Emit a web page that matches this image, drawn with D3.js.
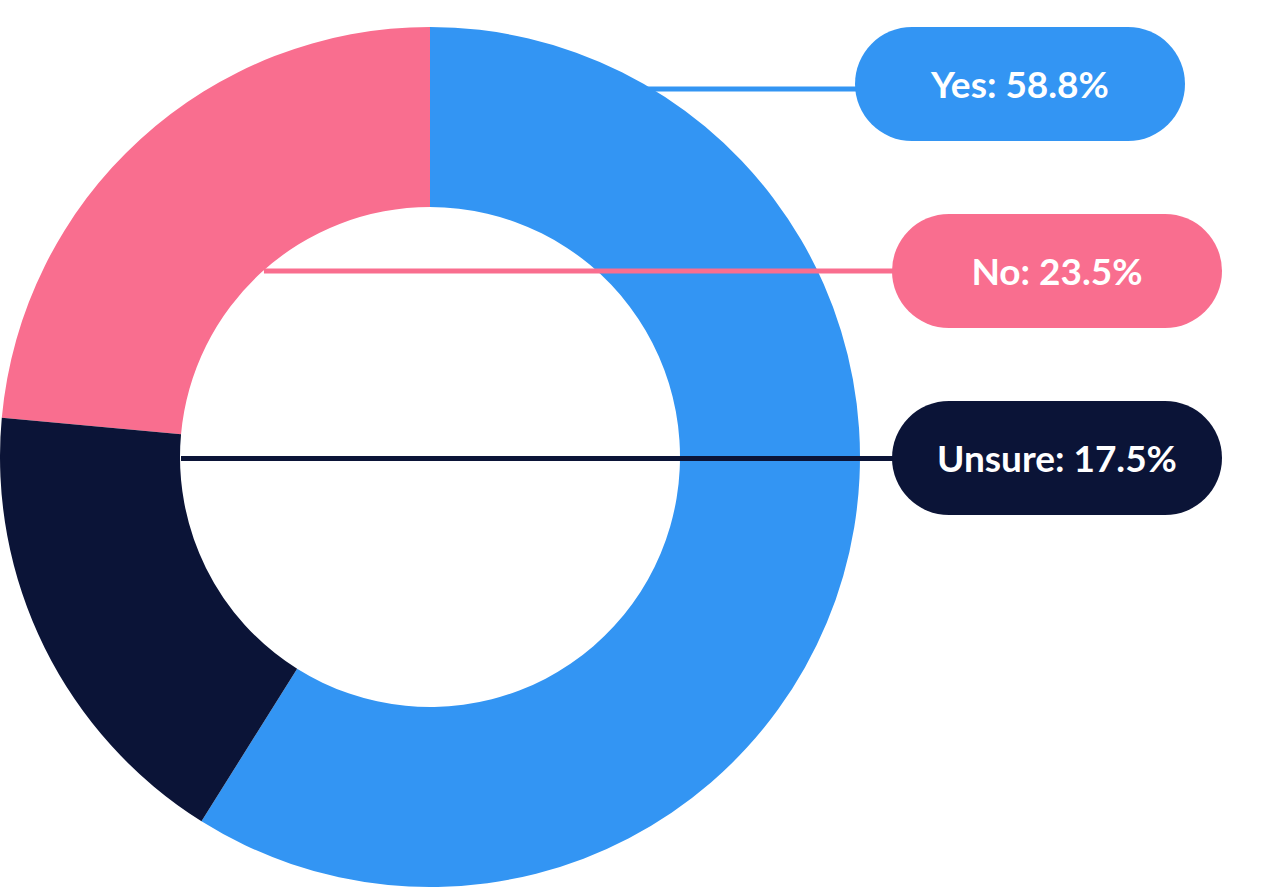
<!DOCTYPE html>
<html>
<head>
<meta charset="utf-8">
<script src="https://cdn.jsdelivr.net/npm/d3@7"></script>
<style>
  html, body { margin: 0; padding: 0; background: #fff; }
  #app { width: 1271px; height: 887px; overflow: hidden; }
</style>
</head>
<body>
<div id="app"></div>
<script>
(function (d3) {

  'use strict'

  // data, legend order
  const categories = ['Yes', 'No', 'Unsure']
  const values = [58.8, 23.5, 17.5]
  const colors = ['#3395f3', '#f96e8f', '#0b1437']
  // order the slices run clockwise from 12 o'clock
  const sliceOrder = ['Yes', 'Unsure', 'No']

  const w = 1271
  const h = 887
  const cx = 430
  const cy = 457
  const outerR = 430
  const innerR = 250

  // label pills, leader line y and which circle edge the leader starts from
  const pillW = 330
  const pillH = 114
  const pills = [
    { x: 855, y: 27, lineY: 89, from: 'outerRight' },
    { x: 892, y: 214, lineY: 271, from: 'innerLeft' },
    { x: 892, y: 401, lineY: 458.5, from: 'innerLeft' }
  ]

  const rows = categories.map((c, i) => ({ name: c, value: values[i], color: colors[i], pill: pills[i] }))

  const svg = d3.select('#app')
  .append('svg')
  .attr('width', w)
  .attr('height', h)

  const pie = d3.pie()
  .value(d => d.value)
  .sort((a, b) => sliceOrder.indexOf(a.name) - sliceOrder.indexOf(b.name))

  const arc = d3.arc()
  .innerRadius(innerR)
  .outerRadius(outerR)

  svg.append('g')
  .attr('transform', 'translate(' + cx + ',' + cy + ')')
  .selectAll('path')
  .data(pie(rows))
  .enter()
  .append('path')
  .attr('d', arc)
  .attr('fill', d => d.data.color)

  const edgeX = function (p) {
    const dy = p.lineY - cy
    if (p.from === 'outerRight') return cx + Math.sqrt(outerR * outerR - dy * dy) - 6
    return cx - Math.sqrt(innerR * innerR - dy * dy) + 1
  }

  svg.append('g')
  .selectAll('line')
  .data(rows)
  .enter()
  .append('line')
  .attr('x1', d => edgeX(d.pill))
  .attr('x2', d => d.pill.x + 10)
  .attr('y1', d => d.pill.lineY)
  .attr('y2', d => d.pill.lineY)
  .attr('stroke', d => d.color)
  .attr('stroke-width', 5)

  const label = svg.append('g')
  .selectAll('g')
  .data(rows)
  .enter()
  .append('g')
  .attr('transform', d => 'translate(' + d.pill.x + ',' + d.pill.y + ')')

  label.append('rect')
  .attr('width', pillW)
  .attr('height', pillH)
  .attr('rx', pillH / 2)
  .attr('fill', d => d.color)

  label.append('text')
  .attr('x', pillW / 2)
  .attr('y', pillH / 2 + 14)
  .attr('text-anchor', 'middle')
  .attr('fill', '#fff')
  .style('font-family', 'Lato, sans-serif')
  .style('font-weight', 700)
  .style('font-size', '37px')
  .text(d => d.name + ': ' + d.value + '%')

}(d3))
</script>
</body>
</html>
